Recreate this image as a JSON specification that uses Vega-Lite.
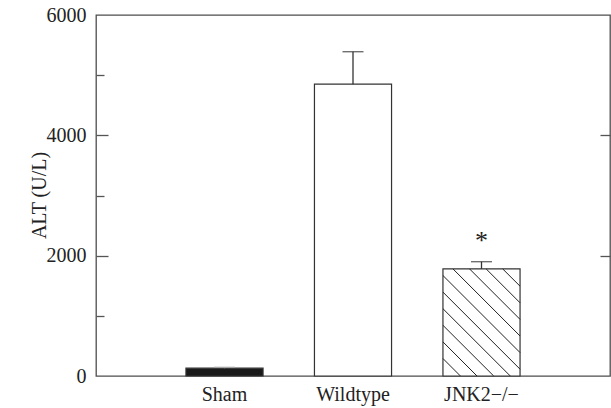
{
  "$schema": "https://vega.github.io/schema/vega-lite/v6.json",
  "width": 514,
  "height": 361,
  "autosize": {"type": "none"},
  "padding": {"left": 96, "top": 15, "right": 1, "bottom": 32},
  "background": "white",
  "config": {
    "view": {"stroke": "#4d4d4d", "strokeWidth": 1.3},
    "font": "Liberation Serif",
    "axis": {"labelFont": "Liberation Serif", "titleFont": "Liberation Serif", "labelColor": "#222", "titleColor": "#222", "grid": false, "domain": false, "tickColor": "#555", "tickWidth": 1.3}
  },
  "datasets": {
    "groups": [
      {"group": "Sham", "alt": 130, "upper": 145},
      {"group": "Wildtype", "alt": 4850, "upper": 5390},
      {"group": "JNK2−/−", "alt": 1780, "upper": 1900, "sig": "*"}
    ],
    "hatch": [
      {"x": 3.165, "y": 1780, "x2": 3.3, "y2": 1492.5},
      {"x": 3.036, "y": 1780, "x2": 3.3, "y2": 1216.6},
      {"x": 2.907, "y": 1780, "x2": 3.3, "y2": 940.7},
      {"x": 2.778, "y": 1780, "x2": 3.3, "y2": 664.8},
      {"x": 2.7, "y": 1670.3, "x2": 3.3, "y2": 388.9},
      {"x": 2.7, "y": 1394.4, "x2": 3.3, "y2": 113},
      {"x": 2.7, "y": 1118.5, "x2": 3.224, "y2": 0},
      {"x": 2.7, "y": 842.6, "x2": 3.095, "y2": 0},
      {"x": 2.7, "y": 566.7, "x2": 2.965, "y2": 0},
      {"x": 2.7, "y": 290.8, "x2": 2.836, "y2": 0}
    ]
  },
  "resolve": {"scale": {"x": "independent"}, "axis": {"x": "independent", "y": "independent"}},
  "layer": [
    {
      "data": {"name": "groups"},
      "mark": {"type": "bar", "stroke": "#333", "strokeWidth": 1.2},
      "encoding": {
        "x": {"field": "group", "type": "nominal", "sort": null,
          "scale": {"type": "band", "domain": ["Sham", "Wildtype", "JNK2−/−"], "paddingInner": 0.4, "paddingOuter": 0.7},
          "axis": {"title": null, "labelAngle": 0, "ticks": false, "labelPadding": 8, "labelFontSize": 20, "labelBaseline": "top"}},
        "y": {"field": "alt", "type": "quantitative",
          "scale": {"domain": [0, 6000], "nice": false},
          "axis": {"title": "ALT (U/L)", "values": [0, 2000, 4000, 6000], "format": "d", "ticks": false, "labelPadding": 10, "labelFontSize": 20, "titleFontSize": 20, "titleFontWeight": "normal", "titleX": -47, "titleY": 180, "titleAlign": "center", "titleAngle": 270, "titleBaseline": "bottom"}},
        "fill": {"field": "group", "type": "nominal",
          "scale": {"domain": ["Sham", "Wildtype", "JNK2−/−"], "range": ["#1a1a1a", "#ffffff", "#ffffff"]},
          "legend": null}
      }
    },
    {
      "data": {"name": "groups"},
      "mark": {"type": "rule", "strokeWidth": 1.3},
      "encoding": {
        "x": {"field": "group", "type": "nominal", "sort": null,
          "scale": {"type": "band", "domain": ["Sham", "Wildtype", "JNK2−/−"], "paddingInner": 0.4, "paddingOuter": 0.7},
          "axis": null},
        "y": {"field": "alt", "type": "quantitative",
          "scale": {"domain": [0, 6000], "nice": false},
          "axis": {"orient": "left", "values": [2000, 4000], "tickSize": -12, "labels": false, "title": null}},
        "y2": {"field": "upper"},
        "color": {"condition": {"test": "datum.group === 'Sham'", "value": "#aaaaaa"}, "value": "#333333"}
      }
    },
    {
      "data": {"name": "groups"},
      "mark": {"type": "tick", "orient": "horizontal", "size": 21, "thickness": 1.4},
      "encoding": {
        "x": {"field": "group", "type": "nominal", "sort": null,
          "scale": {"type": "band", "domain": ["Sham", "Wildtype", "JNK2−/−"], "paddingInner": 0.4, "paddingOuter": 0.7},
          "axis": null},
        "y": {"field": "upper", "type": "quantitative",
          "scale": {"domain": [0, 6000], "nice": false},
          "axis": {"orient": "left", "values": [1000, 3000, 5000], "tickSize": -8, "labels": false, "title": null}},
        "color": {"condition": {"test": "datum.group === 'Sham'", "value": "#aaaaaa"}, "value": "#333333"}
      }
    },
    {
      "data": {"name": "groups"},
      "transform": [{"filter": "datum.sig"}],
      "mark": {"type": "text", "font": "Liberation Serif", "fontSize": 26, "baseline": "alphabetic", "dy": -13, "fill": "#222222"},
      "encoding": {
        "x": {"field": "group", "type": "nominal", "sort": null,
          "scale": {"type": "band", "domain": ["Sham", "Wildtype", "JNK2−/−"], "paddingInner": 0.4, "paddingOuter": 0.7},
          "bandPosition": 0.5,
          "axis": null},
        "y": {"field": "upper", "type": "quantitative",
          "scale": {"domain": [0, 6000], "nice": false},
          "axis": {"orient": "right", "values": [2000, 4000], "tickSize": -10, "labels": false, "title": null}},
        "text": {"field": "sig"}
      }
    },
    {
      "data": {"name": "hatch"},
      "mark": {"type": "rule", "stroke": "#222", "strokeWidth": 1},
      "encoding": {
        "x": {"field": "x", "type": "quantitative", "scale": {"domain": [0, 4], "nice": false, "zero": false}, "axis": null},
        "y": {"field": "y", "type": "quantitative", "scale": {"domain": [0, 6000], "nice": false}, "axis": null},
        "x2": {"field": "x2"},
        "y2": {"field": "y2"}
      }
    }
  ]
}
